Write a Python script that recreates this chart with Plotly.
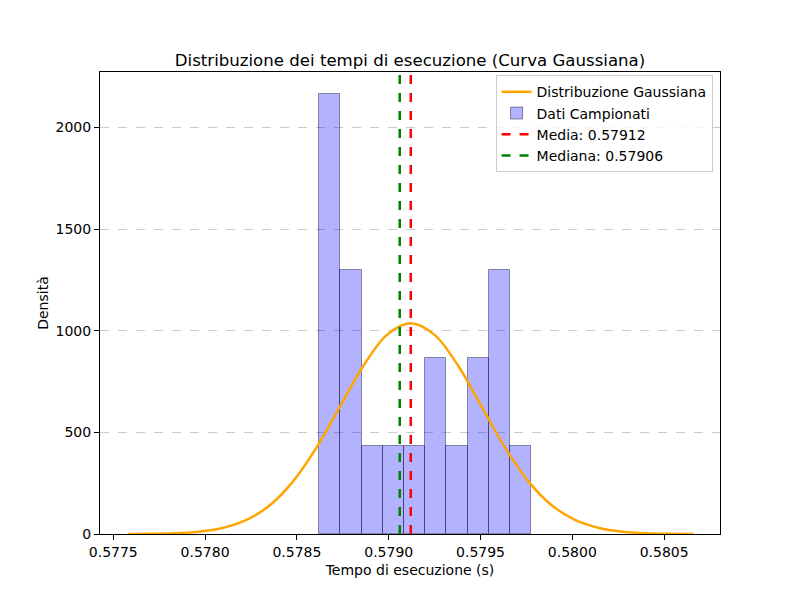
import plotly.graph_objects as go

# histogram bins (edges) and density heights
bin_edges = [0.578621, 0.5787365, 0.578852, 0.5789674, 0.5790829, 0.5791983,
             0.5793138, 0.5794292, 0.5795447, 0.5796601, 0.5797756]
densities = [2165, 1299, 433, 433, 433, 866, 433, 866, 1299, 433]

# gaussian curve
curve_x = [0.5775820, 0.5777101, 0.5778383, 0.5779665, 0.5780946, 0.5782228,
           0.5783510, 0.5784792, 0.5786073, 0.5787355, 0.5788637, 0.5789918,
           0.5791200, 0.5792482, 0.5793763, 0.5795045, 0.5796327, 0.5797608,
           0.5798890, 0.5800172, 0.5801454, 0.5802735, 0.5804017, 0.5805299,
           0.5806580]
curve_y = [0.35, 1.25, 4.0, 11.5, 29.6, 68.1, 140, 259, 426, 629, 830, 981,
           1037, 981, 830, 629, 426, 259, 140, 68.1, 29.6, 11.5, 4.0, 1.25, 0.35]

media = 0.57912
mediana = 0.57906

x_ticks = [0.5775, 0.5780, 0.5785, 0.5790, 0.5795, 0.5800, 0.5805]
y_ticks = [0, 500, 1000, 1500, 2000]
y_top = 2273

centers = [(a + b) / 2 for a, b in zip(bin_edges[:-1], bin_edges[1:])]
widths = [b - a for a, b in zip(bin_edges[:-1], bin_edges[1:])]

fig = go.Figure()
fig.add_trace(go.Scatter(x=curve_x, y=curve_y, mode='lines', line_shape='spline',
                         line=dict(color='orange', width=2.5), name='Distribuzione Gaussiana'))
fig.add_trace(go.Bar(x=centers, y=densities, width=widths, name='Dati Campionati',
                     marker=dict(color='rgba(0,0,255,0.3)',
                                 line=dict(color='rgba(20,20,50,0.45)', width=1))))
fig.add_trace(go.Scatter(x=[media, media], y=[0, y_top], mode='lines',
                         line=dict(color='red', width=2.5, dash='dash'),
                         name=f'Media: {media:.5f}'))
fig.add_trace(go.Scatter(x=[mediana, mediana], y=[0, y_top], mode='lines',
                         line=dict(color='green', width=2.5, dash='dash'),
                         name=f'Mediana: {mediana:.5f}'))

# page body adds ~8px offset, so margins are shifted
fig.update_layout(
    width=800, height=600,
    margin=dict(l=92, r=88, t=64, b=74),
    paper_bgcolor='white', plot_bgcolor='white',
    font=dict(family='DejaVu Sans', size=14, color='black'),
    title=dict(text='Distribuzione dei tempi di esecuzione (Curva Gaussiana)',
               x=0.5, xref='paper', y=0.903, yanchor='bottom',
               font=dict(size=16.6)),
    showlegend=True,
    legend=dict(x=0.988, y=0.993, xanchor='right', yanchor='top',
                bgcolor='rgba(255,255,255,0.8)', bordercolor='#cccccc', borderwidth=1,
                font=dict(size=14), traceorder='normal'),
    bargap=0,
)
fig.update_xaxes(range=[0.5774277, 0.580804], tickvals=x_ticks,
                 ticktext=[f'{v:.4f}' for v in x_ticks],
                 title=dict(text='Tempo di esecuzione (s)', standoff=6, font=dict(size=14)),
                 tickfont=dict(size=14),
                 showline=True, linecolor='black', linewidth=1, mirror=True,
                 ticks='outside', ticklen=5, tickcolor='black',
                 showgrid=False, zeroline=False)
fig.update_yaxes(range=[0, y_top], tickvals=y_ticks,
                 title=dict(text='Densità', standoff=3, font=dict(size=14)),
                 tickfont=dict(size=14),
                 showline=True, linecolor='black', linewidth=1, mirror=True,
                 ticks='outside', ticklen=5, tickcolor='black',
                 showgrid=True, gridcolor='rgba(190,190,190,0.8)', griddash='dash',
                 gridwidth=1, zeroline=False)

fig.write_html("out.html")
